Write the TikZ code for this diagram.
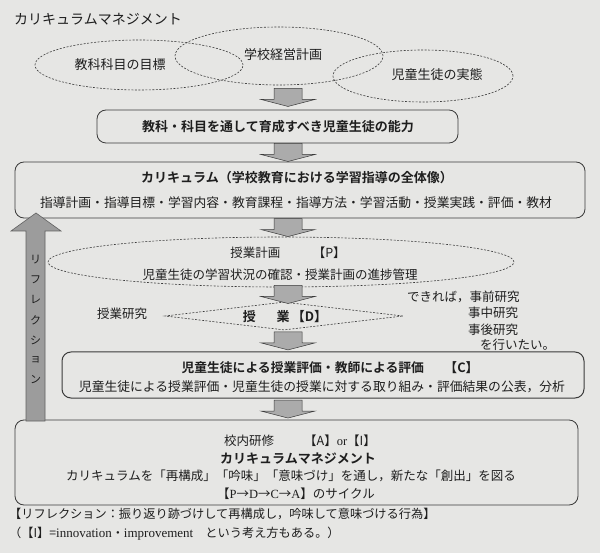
\documentclass[tikz,border=0pt]{standalone}
\usepackage{fontspec}
\setmainfont{Noto Sans CJK JP}[BoldFont={Noto Sans CJK JP Bold}]
\newfontfamily\latinserif{Liberation Serif}
\usetikzlibrary{shapes.geometric,calc}
\definecolor{bgc}{HTML}{E6E6E4}
\definecolor{linec}{HTML}{3A3A3A}
\definecolor{txtc}{HTML}{1E1E1E}
\definecolor{arrfill}{HTML}{ABABAB}
\definecolor{refl}{HTML}{9C9C9C}
\tikzset{
  blockarr/.pic={\filldraw[fill=arrfill,draw=linec,line width=0.5pt] (-14,-9) -- (14,-9) -- (14,2) -- (27,2) -- (0,9) -- (-27,2) -- (-14,2) -- cycle;},
  txt/.style={inner sep=0pt, text=txtc, font=\fontsize{12.5}{14}\selectfont},
  btxt/.style={inner sep=0pt, text=txtc, font=\bfseries\fontsize{13}{15}\selectfont},
  dell/.style={ellipse, draw=linec, dash pattern=on 2pt off 1.5pt, line width=0.6pt, inner sep=0pt},
  rbox/.style={draw=linec, rounded corners=9pt, line width=0.8pt, inner sep=0pt},
  dshape/.style={diamond, draw=linec, dash pattern=on 2pt off 1.5pt, line width=0.6pt, inner sep=0pt}
}
\begin{document}
\begin{tikzpicture}[x=1pt,y=-1pt]
\fill[bgc] (0,0) rectangle (600,553);
\useasboundingbox (0,0) rectangle (600,553);
\coordinate (axis) at (288,0);

% title
\node[txt, font=\fontsize{14}{16}\selectfont, anchor=west] (title) at (14,19) {カリキュラムマネジメント};

% three overlapping ellipses
\node[dell, minimum width=208pt, minimum height=50pt] (E1) at (139,65) {};
\node[dell, minimum width=208pt, minimum height=58pt] (E2) at (279,56) {};
\node[dell, minimum width=180pt, minimum height=52pt] (E3) at (423,76) {};
\node[txt, font=\fontsize{13}{15}\selectfont] (E1t) at (120,65) {教科科目の目標};
\node[txt, font=\fontsize{13}{15}\selectfont] (E2t) at (283,55) {学校経営計画};
\node[txt, font=\fontsize{13}{15}\selectfont] (E3t) at (437,75) {児童生徒の実態};

% box 1
\node[rbox, minimum width=361pt, minimum height=33pt] (B1) at (277.5,126.5) {};
\node[btxt] (B1t) at (278,127) {教科・科目を通して育成すべき児童生徒の能力};

% box 2 curriculum
\node[rbox, minimum width=570pt, minimum height=56pt] (B2) at (300,190) {};
\node[btxt] (B2a) at (297,178) {カリキュラム（学校教育における学習指導の全体像）};
\node[txt, font=\fontsize{12.8}{14}\selectfont] (B2b) at (296,203) {指導計画・指導目標・学習内容・教育課程・指導方法・学習活動・授業実践・評価・教材};

% P ellipse
\node[dell, minimum width=466pt, minimum height=50pt] (P) at (281,262) {};
\node[txt] (Pa) at (288,253) {授業計画\hspace{2.6em}【P】};
\node[txt] (Pb) at (280,275) {児童生徒の学習状況の確認・授業計画の進捗管理};

% D diamond
\node[dshape, minimum width=238pt, minimum height=28pt] (D) at (284,316) {};
\node[btxt] (Dt) at (285,317) {授\hspace{1.6em}業\,【D】};
\node[txt] (K) at (122,314) {授業研究};
\node[txt, anchor=west] (R1) at (407,297) {できれば，事前研究};
\node[txt, anchor=west] (R2) at (468,313) {事中研究};
\node[txt, anchor=west] (R3) at (468,330) {事後研究};
\node[txt, anchor=west] (R4) at (480,345) {を行いたい。};

% C box
\node[rbox, line width=1pt, minimum width=522pt, minimum height=46pt] (C) at (323,375) {};
\node[btxt, font=\bfseries\fontsize{12.8}{15}\selectfont] (Ca) at (330,368) {児童生徒による授業評価・教師による評価\hspace{1.6em}【C】};
\node[txt, font=\fontsize{12.8}{14}\selectfont] (Cb) at (322,387) {児童生徒による授業評価・児童生徒の授業に対する取り組み・評価結果の公表，分析};

% A box
\node[rbox, minimum width=563pt, minimum height=85pt] (A) at (296.5,462.5) {};
\node[txt] (Aa) at (300,441) {校内研修\hspace{2.4em}【A】{\latinserif or}【I】};
\node[btxt] (Ab) at (298,459) {カリキュラムマネジメント};
\node[txt] (Ac) at (291,476) {カリキュラムを「再構成」「吟味」「意味づけ」を通し，新たな「創出」を図る};
\node[txt] (Ad) at (296,494) {【{\latinserif P}→{\latinserif D}→{\latinserif C}→{\latinserif A}】のサイクル};

% bottom notes
\node[txt, font=\fontsize{12.2}{14}\selectfont, anchor=west] (N1) at (9,514) {【リフレクション：振り返り跡づけして再構成し，吟味して意味づける行為】};
\node[txt, font=\fontsize{12.2}{14}\selectfont, anchor=west] (N2) at (9,534) {（【I】={\latinserif\fontsize{13}{14}\selectfont innovation}・{\latinserif\fontsize{13}{14}\selectfont improvement}\hspace{1em}という考え方もある。）};

% block arrows between elements
\coordinate (m1) at ($(E2.south)!0.5!(B1.north)$);
\coordinate (m2) at ($(B1.south)!0.5!(B2.north)$);
\coordinate (m3) at ($(B2.south)!0.5!(P.north)$);
\coordinate (m4) at ($(P.south)!0.5!(D.north)$);
\coordinate (m5) at ($(D.south)!0.5!(C.north)$);
\coordinate (m6) at ($(C.south)!0.5!(A.north)$);
\foreach \m in {m1,m2,m3,m4,m5,m6}{\pic at (\m -| axis) {blockarr};}

% reflection arrow
\filldraw[fill=refl, draw=linec!80, line width=0.6pt]
  (36,213) -- (61,231) -- (45,231) -- (45,421) -- (26,421) -- (26,231) -- (11,231) -- cycle;
\foreach \c [count=\i from 0] in {リ,フ,レ,ク,シ,ョ,ン}{
  \node[txt, font=\fontsize{11}{12}\selectfont] (v\i) at (35.5,260+20*\i) {\c};
}
\end{tikzpicture}
\end{document}
